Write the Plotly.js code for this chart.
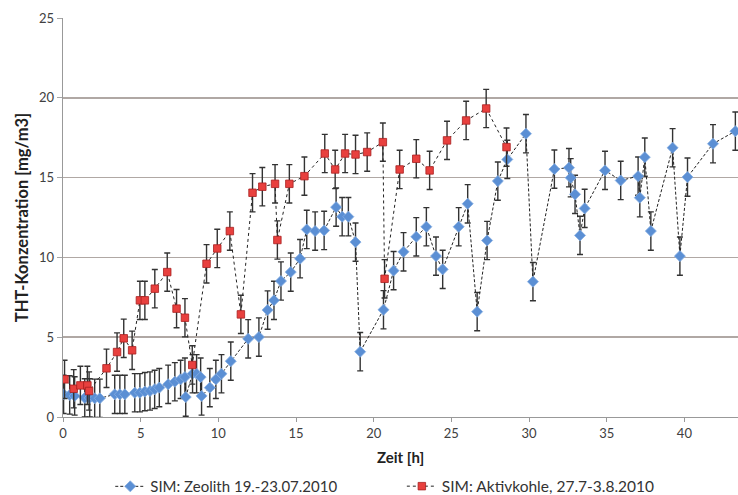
<!DOCTYPE html>
<html>
<head>
<meta charset="utf-8">
<script src="https://cdn.plot.ly/plotly-3.0.1.min.js"></script>
<style>html,body{margin:0;padding:0;background:#fff;}#chart{width:738px;height:495px;}</style>
</head>
<body>
<div id="chart"></div>
<script>
// Zeolith series (blue)
const zeoX = [0.04,0.43,0.75,1.4,1.72,2.04,2.37,3.33,3.66,3.98,4.62,4.95,5.27,5.6,5.9,6.2,6.77,7.2,7.57,7.85,7.9,8.34,8.6,8.86,8.92,9.45,9.84,10.2,10.8,11.92,12.61,13.17,13.58,14.03,14.66,15.26,15.69,16.23,16.81,17.58,17.97,18.37,18.83,19.13,20.63,21.28,21.92,22.74,23.39,24.01,24.44,25.47,26.05,26.66,27.3,27.99,28.6,29.8,30.25,31.63,32.57,32.68,32.96,33.28,33.58,34.89,35.9,37.02,37.13,37.45,37.84,39.24,39.71,40.2,41.84,43.28];
const zeoY = [1.42,1.38,1.32,1.2,1.2,1.17,1.17,1.42,1.42,1.42,1.52,1.52,1.59,1.63,1.73,1.84,2.05,2.21,2.36,2.5,1.25,2.71,2.71,2.5,1.32,1.84,2.36,2.71,3.5,4.9,5.01,6.7,7.31,8.52,9.08,9.92,11.75,11.65,11.69,13.15,12.55,12.55,10.96,4.09,6.72,9.17,10.35,11.29,11.92,10.08,9.25,11.92,13.36,6.6,11.06,14.78,16.14,17.75,8.48,15.53,15.62,14.99,13.95,11.38,13.07,15.45,14.82,15.09,13.74,16.28,11.65,16.87,10.08,15.03,17.12,17.91];
// Aktivkohle series (red)
const aktX = [0.1,0.69,1.12,1.57,1.68,2.8,3.48,3.91,4.45,4.95,5.27,5.91,6.71,7.31,7.85,8.32,9.24,9.93,10.74,11.45,12.2,12.83,13.65,13.8,14.57,15.54,16.85,17.52,18.16,18.83,19.58,20.59,20.7,21.67,22.74,23.6,24.72,25.95,27.24,28.55];
const aktY = [2.36,1.77,1.98,1.98,1.63,3.05,4.07,4.93,4.18,7.31,7.31,8.04,9.08,6.79,6.22,3.26,9.6,10.56,11.65,6.43,14.05,14.43,14.61,11.09,14.61,15.09,16.51,15.51,16.51,16.45,16.6,17.22,8.66,15.51,16.18,15.45,17.33,18.58,19.33,16.91];
const errVal = 1.2;
const seriesNames = ["SIM: Zeolith 19.-23.07.2010", "SIM: Aktivkohle, 27.7-3.8.2010"];
const xTicks = [0,5,10,15,20,25,30,35,40];
const yTicks = [0,5,10,15,20,25];

const font = "Lato, 'Open Sans', sans-serif";
const errStyle = {type:'constant', value:errVal, visible:true, color:'#333', thickness:1.4, width:3};

const traces = [
  {x:zeoX, y:zeoY, name:seriesNames[0], type:'scatter', mode:'lines+markers', legend:'legend',
   line:{color:'#222', width:1, dash:'3px,2px'},
   marker:{symbol:'diamond', size:8.5, color:'#5b8fd4', line:{color:'#86aee2', width:0.8}},
   error_y:errStyle},
  {x:aktX, y:aktY, name:seriesNames[1], type:'scatter', mode:'lines+markers', legend:'legend2',
   line:{color:'#222', width:1, dash:'dot'},
   marker:{symbol:'square', size:7.5, color:'#e8403e', line:{color:'#a82020', width:0.8}},
   error_y:errStyle}
];

const legendCommon = {orientation:'h', xref:'paper', yref:'container', y:0.017, yanchor:'middle',
  xanchor:'left', font:{size:15, color:'#333'}, bgcolor:'rgba(0,0,0,0)', itemwidth:30};

const layout = {
  width:738, height:495,
  margin:{l:63, r:0, t:18, b:78},
  paper_bgcolor:'#fff', plot_bgcolor:'#fff',
  font:{family:font, size:12, color:'#404040'},
  showlegend:true,
  legend:Object.assign({}, legendCommon, {x:0.07}),
  legend2:Object.assign({}, legendCommon, {x:0.502, font:{size:15.5, color:'#333'}}),
  xaxis:{range:[0,43.45], tickvals:xTicks, ticks:'outside', ticklen:4, tickcolor:'#999',
         showline:true, linecolor:'#999', linewidth:1.3, showgrid:false, zeroline:false,
         tickfont:{size:13, color:'#404040'}, automargin:false,
         title:{text:'<b>Zeit [h]</b>', font:{size:15, color:'#222'}, standoff:12}},
  yaxis:{range:[0,25], tickvals:yTicks, ticks:'outside', ticklen:5, tickcolor:'#a6a6a6',
         showline:true, linecolor:'#999', linewidth:1.3,
         showgrid:true, gridcolor:'#b0a8a4', gridwidth:1.5, zeroline:false,
         tickfont:{size:13, color:'#404040'}, automargin:false,
         title:{text:'<b>THT-Konzentration [mg/m3]</b>', font:{size:16.5, color:'#222'}, standoff:6}}
};

Plotly.newPlot('chart', traces, layout, {displayModeBar:false, staticPlot:true});
</script>
</body>
</html>
